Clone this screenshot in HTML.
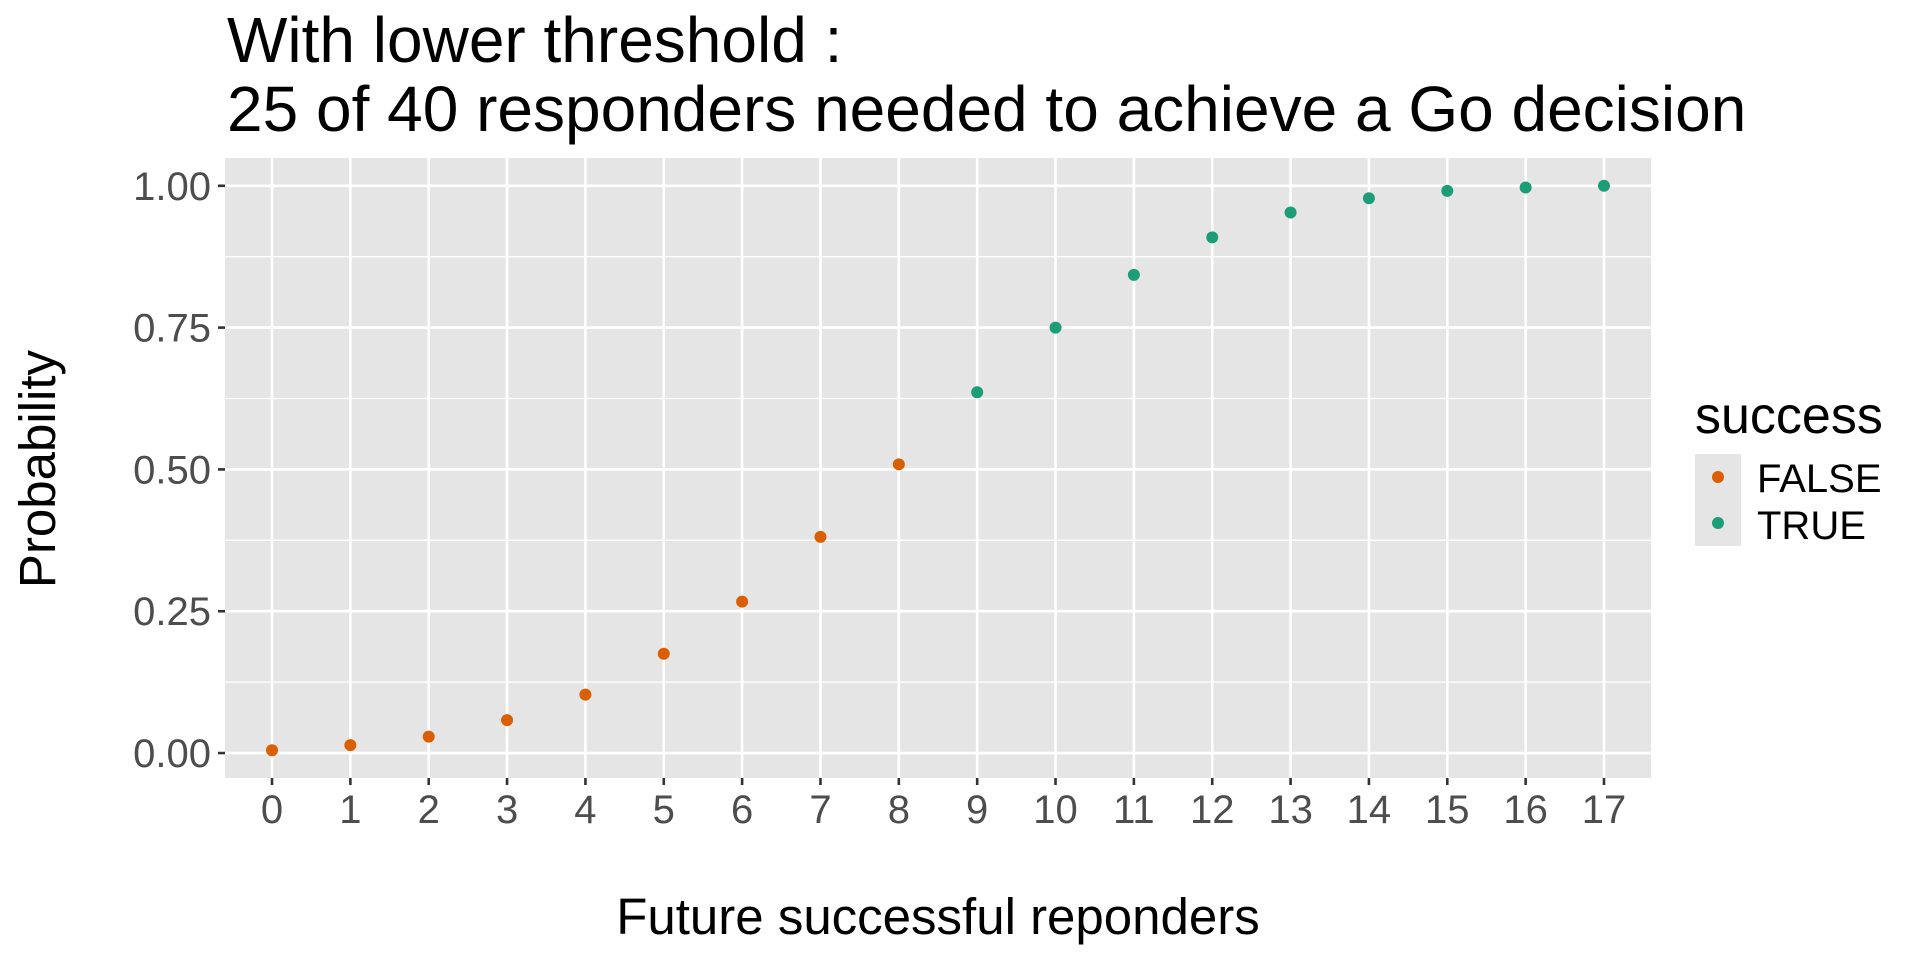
<!DOCTYPE html>
<html><head><meta charset="utf-8"><style>
html,body{margin:0;padding:0;background:#fff;}
svg{display:block;font-family:"Liberation Sans",Arial,sans-serif;}
</style></head><body>
<svg id="chart" width="1920" height="960" viewBox="0 0 1920 960">
<text x="227" y="62" font-size="64" fill="#000">With lower threshold :</text>
<text x="227" y="131" font-size="64" fill="#000">25 of 40 responders needed to achieve a Go decision</text>
<rect x="225" y="158" width="1426" height="620" fill="#e5e5e5"/>
<g id="grid"></g>
<g id="points"></g>
<g id="axes"></g>
<text x="938" y="934" font-size="51" text-anchor="middle" fill="#000">Future successful reponders</text>
<text transform="translate(55,469) rotate(-90)" font-size="51" text-anchor="middle" fill="#000">Probability</text>
<g>
<text x="1695" y="433" font-size="52" fill="#000">success</text>
<rect x="1695" y="454" width="46" height="92" fill="#e5e5e5"/>
<circle cx="1718" cy="477" r="6" fill="#d95f02"/>
<circle cx="1718" cy="523" r="6" fill="#1b9e77"/>
<text x="1757" y="492" font-size="40" fill="#000">FALSE</text>
<text x="1757" y="539" font-size="40" fill="#000">TRUE</text>
</g>
</svg>
<script>
const categories = [0,1,2,3,4,5,6,7,8,9,10,11,12,13,14,15,16,17];
const probabilities = [0.005,0.014,0.029,0.058,0.103,0.175,0.267,0.381,0.509,0.636,0.75,0.843,0.909,0.953,0.978,0.991,0.997,1.0];
const successFlags = [false,false,false,false,false,false,false,false,false,true,true,true,true,true,true,true,true,true];
const yTickValues = [0,0.25,0.5,0.75,1];
const yTickLabels = ["0.00","0.25","0.50","0.75","1.00"];

const NS = "http://www.w3.org/2000/svg";
const PL = 225, PR = 1651, PT = 158, PB = 778;
const xMin = -0.6, xMax = 17.6, yMin = -0.044, yMax = 1.049;
function xs(v){ return PL + (v - xMin) / (xMax - xMin) * (PR - PL); }
function ys(v){ return PB - (v - yMin) / (yMax - yMin) * (PB - PT); }
function mk(tag, attrs, parent){ const e = document.createElementNS(NS, tag); for (const k in attrs) e.setAttribute(k, attrs[k]); parent.appendChild(e); return e; }

const grid = document.getElementById('grid');
const axes = document.getElementById('axes');
const pts = document.getElementById('points');

for (let i = 0; i < yTickValues.length - 1; i++) {
  const m = (yTickValues[i] + yTickValues[i+1]) / 2;
  const l = mk('line', {x1:PL, x2:PR, y1:ys(m), y2:ys(m), stroke:'#fff', 'stroke-width':1.3}, grid);
  
  
}
yTickValues.forEach((v, i) => {
  const y = ys(v);
  const l = mk('line', {x1:PL, x2:PR, y1:y, y2:y, stroke:'#fff', 'stroke-width':2.6}, grid);
  
  
  const t = mk('line', {x1:PL-7, x2:PL, y1:y, y2:y, stroke:'#333', 'stroke-width':2.6}, axes);
  
  
  const tx = mk('text', {x:PL-14, y:y+14, 'font-size':40, fill:'#4d4d4d', 'text-anchor':'end'}, axes);
  tx.textContent = yTickLabels[i];
  
  
});
categories.forEach(c => {
  const x = xs(c);
  const l = mk('line', {x1:x, x2:x, y1:PT, y2:PB, stroke:'#fff', 'stroke-width':2.6}, grid);
  
  
  const t = mk('line', {x1:x, x2:x, y1:PB, y2:PB+7, stroke:'#333', 'stroke-width':2.6}, axes);
  
  
  const tx = mk('text', {x:x, y:823, 'font-size':40, fill:'#4d4d4d', 'text-anchor':'middle'}, axes);
  tx.textContent = String(c);
  
  
});
categories.forEach((c, i) => {
  const p = mk('circle', {cx:xs(c), cy:ys(probabilities[i]), r:6, fill: successFlags[i] ? '#1b9e77' : '#d95f02'}, pts);
  
  
});
</script>
</body></html>
